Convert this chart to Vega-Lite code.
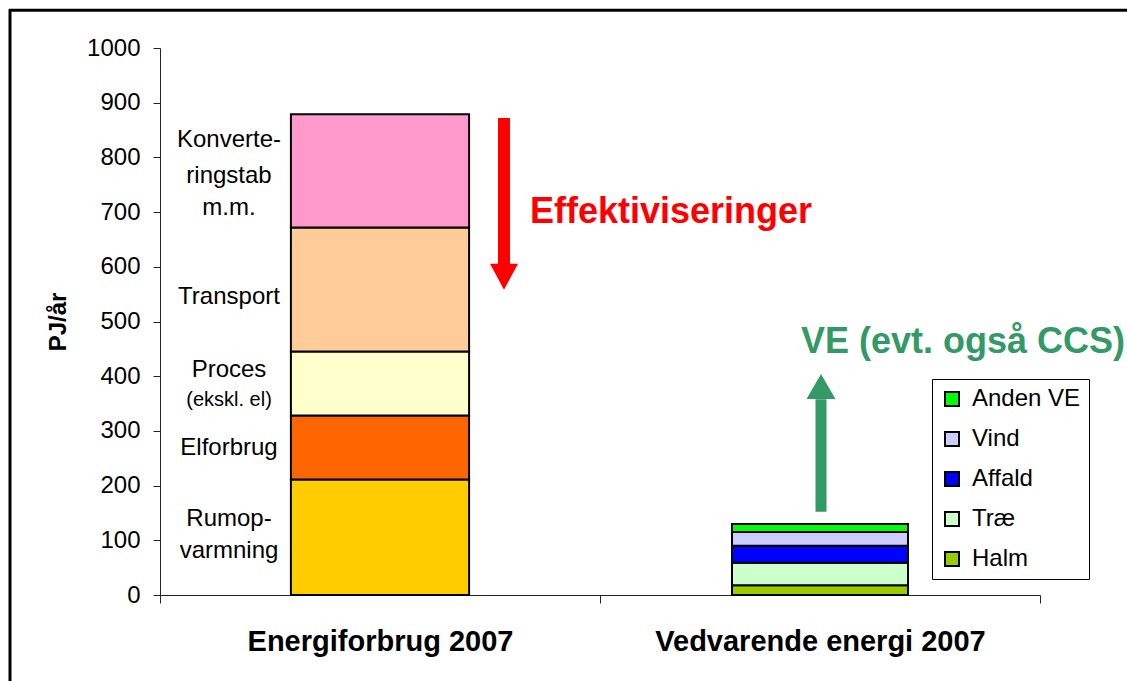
{
  "$schema": "https://vega.github.io/schema/vega-lite/v6.json",
  "width": 880,
  "height": 547,
  "autosize": {"type": "none"},
  "padding": {"left": 160, "top": 48, "right": 87, "bottom": 86},
  "background": "white",
  "config": {
    "font": "Liberation Sans",
    "view": {"stroke": null},
    "axis": {"labelColor": "#000", "titleColor": "#000", "domainColor": "#222", "tickColor": "#222", "grid": false, "labelFont": "Liberation Sans", "titleFont": "Liberation Sans"},
    "legend": {"labelFont": "Liberation Sans"}
  },
  "datasets": {
    "use": [
      {"cat": "Energiforbrug 2007", "part": "Rumopvarmning", "value": 211, "rank": 1},
      {"cat": "Energiforbrug 2007", "part": "Elforbrug", "value": 117, "rank": 2},
      {"cat": "Energiforbrug 2007", "part": "Proces", "value": 117, "rank": 3},
      {"cat": "Energiforbrug 2007", "part": "Transport", "value": 227, "rank": 4},
      {"cat": "Energiforbrug 2007", "part": "Konverteringstab m.m.", "value": 207, "rank": 5}
    ],
    "ve": [
      {"cat": "Vedvarende energi 2007", "part": "Halm", "value": 18, "rank": 1},
      {"cat": "Vedvarende energi 2007", "part": "Træ", "value": 41, "rank": 2},
      {"cat": "Vedvarende energi 2007", "part": "Affald", "value": 31, "rank": 3},
      {"cat": "Vedvarende energi 2007", "part": "Vind", "value": 25, "rank": 4},
      {"cat": "Vedvarende energi 2007", "part": "Anden VE", "value": 15, "rank": 5}
    ],
    "labels": [
      {"cat": "Energiforbrug 2007", "label": "Konverte-", "at": 832},
      {"cat": "Energiforbrug 2007", "label": "ringstab", "at": 766},
      {"cat": "Energiforbrug 2007", "label": "m.m.", "at": 708},
      {"cat": "Energiforbrug 2007", "label": "Transport", "at": 545},
      {"cat": "Energiforbrug 2007", "label": "Proces", "at": 411},
      {"cat": "Energiforbrug 2007", "label": "Elforbrug", "at": 269},
      {"cat": "Energiforbrug 2007", "label": "Rumop-", "at": 139},
      {"cat": "Energiforbrug 2007", "label": "varmning", "at": 80}
    ],
    "one": [{}]
  },
  "layer": [
    {
      "data": {"name": "use"},
      "mark": {"type": "bar", "width": {"band": 0.405}, "stroke": "#000", "strokeWidth": 2},
      "encoding": {
        "x": {
          "field": "cat", "type": "nominal", "sort": null,
          "scale": {"domain": ["Energiforbrug 2007", "Vedvarende energi 2007"], "paddingInner": 0, "paddingOuter": 0},
          "axis": {"title": null, "labelAngle": 0, "labelFontSize": 29, "labelFontWeight": "bold", "labelLimit": 0, "tickBand": "extent", "tickSize": 8, "labelPadding": 24, "domainWidth": 1}
        },
        "y": {
          "field": "value", "type": "quantitative", "stack": "zero",
          "scale": {"domain": [0, 1000], "nice": false},
          "axis": {"title": "PJ/år", "titleFontSize": 24, "titleFontWeight": "bold", "titlePadding": 16, "format": "d", "values": [0, 100, 200, 300, 400, 500, 600, 700, 800, 900, 1000], "labelFontSize": 24, "tickSize": 7, "labelPadding": 13}
        },
        "order": {"field": "rank"},
        "color": {
          "field": "part", "type": "nominal", "legend": null,
          "scale": {"domain": ["Rumopvarmning", "Elforbrug", "Proces", "Transport", "Konverteringstab m.m."], "range": ["#FFCC00", "#FF6600", "#FFFFCC", "#FFCC99", "#FF99CC"]}
        }
      }
    },
    {
      "data": {"name": "ve"},
      "mark": {"type": "bar", "width": {"band": 0.4}, "stroke": "#000", "strokeWidth": 2},
      "encoding": {
        "x": {"field": "cat", "type": "nominal"},
        "y": {"field": "value", "type": "quantitative", "stack": "zero"},
        "order": {"field": "rank"},
        "color": {
          "field": "part", "type": "nominal",
          "scale": {"domain": ["Anden VE", "Vind", "Affald", "Træ", "Halm"], "range": ["#00FF00", "#CCCCFF", "#0000FF", "#CCFFCC", "#99CC00"]},
          "legend": {
            "title": null, "orient": "none", "legendX": 772, "legendY": 331,
            "strokeColor": "#000", "fillColor": "#fff", "padding": 8,
            "symbolType": "square", "symbolSize": 196, "symbolStrokeColor": "#000", "symbolStrokeWidth": 2, "symbolOpacity": 1,
            "labelFontSize": 24, "labelColor": "#000", "labelOffset": 8, "rowPadding": 16
          }
        }
      }
    },
    {
      "data": {"name": "labels"},
      "mark": {"type": "text", "dx": -151, "align": "center", "baseline": "middle", "fontSize": 24, "color": "#000"},
      "encoding": {
        "x": {"field": "cat", "type": "nominal"},
        "y": {"field": "at", "type": "quantitative"},
        "text": {"field": "label"}
      }
    },
    {
      "data": {"name": "one"},
      "mark": {"type": "text", "dx": -151, "align": "center", "baseline": "middle", "fontSize": 20, "color": "#000"},
      "encoding": {
        "x": {"datum": "Energiforbrug 2007"},
        "y": {"datum": 356},
        "text": {"value": "(ekskl. el)"}
      }
    },
    {
      "data": {"name": "one"},
      "mark": {"type": "rule", "color": "#FF0000", "strokeWidth": 12, "xOffset": 124},
      "encoding": {
        "x": {"datum": "Energiforbrug 2007"},
        "y": {"datum": 872},
        "y2": {"datum": 600}
      }
    },
    {
      "data": {"name": "one"},
      "mark": {"type": "point", "filled": true, "color": "#FF0000", "opacity": 1, "size": 784, "shape": "M-1,-0.93L1,-0.93L0,0.93Z", "xOffset": 124},
      "encoding": {
        "x": {"datum": "Energiforbrug 2007"},
        "y": {"datum": 582}
      }
    },
    {
      "data": {"name": "one"},
      "mark": {"type": "text", "dx": 150, "align": "left", "baseline": "alphabetic", "fontSize": 36, "fontWeight": "bold", "color": "#FF0000"},
      "encoding": {
        "x": {"datum": "Energiforbrug 2007"},
        "y": {"datum": 680},
        "text": {"value": "Effektiviseringer"}
      }
    },
    {
      "data": {"name": "one"},
      "mark": {"type": "rule", "color": "#339966", "strokeWidth": 11, "xOffset": 1},
      "encoding": {
        "x": {"datum": "Vedvarende energi 2007"},
        "y": {"datum": 152},
        "y2": {"datum": 358}
      }
    },
    {
      "data": {"name": "one"},
      "mark": {"type": "point", "filled": true, "color": "#339966", "opacity": 1, "size": 841, "shape": "M-1,0.86L1,0.86L0,-0.86Z", "xOffset": 1},
      "encoding": {
        "x": {"datum": "Vedvarende energi 2007"},
        "y": {"datum": 381}
      }
    },
    {
      "data": {"name": "one"},
      "mark": {"type": "text", "dx": -19, "align": "left", "baseline": "alphabetic", "fontSize": 36, "fontWeight": "bold", "color": "#339966"},
      "encoding": {
        "x": {"datum": "Vedvarende energi 2007"},
        "y": {"datum": 442},
        "text": {"value": "VE (evt. også CCS)"}
      }
    },
    {
      "data": {"name": "one"},
      "mark": {"type": "rule", "color": "#000", "strokeWidth": 3, "xOffset": -371, "x2Offset": 400},
      "encoding": {
        "x": {"datum": "Energiforbrug 2007"},
        "x2": {"datum": "Vedvarende energi 2007"},
        "y": {"datum": 1069}
      }
    },
    {
      "data": {"name": "one"},
      "mark": {"type": "rule", "color": "#000", "strokeWidth": 3, "xOffset": -370},
      "encoding": {
        "x": {"datum": "Energiforbrug 2007"},
        "y": {"datum": 1071},
        "y2": {"datum": -200}
      }
    }
  ],
  "resolve": {"scale": {"color": "independent"}}
}
